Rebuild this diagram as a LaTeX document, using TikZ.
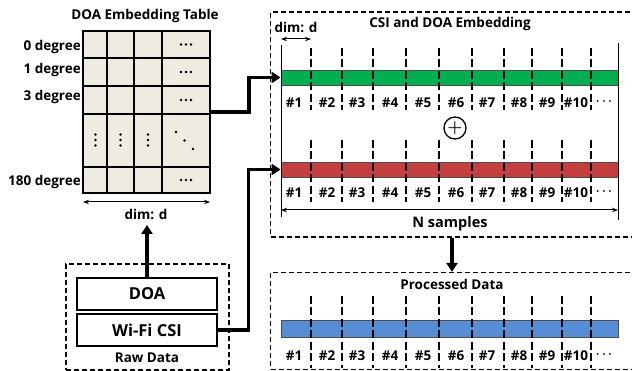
\documentclass[tikz,border=0pt]{standalone}
\usepackage{fontspec}
\setmainfont{Open Sans}
\usepackage{tikz}
\usetikzlibrary{arrows.meta}
\usetikzlibrary{positioning}
\definecolor{tablefill}{RGB}{238,236,225}
\definecolor{embgreen}{RGB}{0,176,80}
\definecolor{embred}{RGB}{196,64,62}
\definecolor{procblue}{RGB}{85,142,213}
\tikzset{
every node/.style={font=\bfseries\fontsize{13.5}{15}\selectfont, inner sep=0pt},
tbl/.style={rectangle, draw, fill=tablefill, line width=1.6pt, minimum width=127pt, minimum height=162pt},
grid/.style={line width=1.6pt},
dashbox/.style={rectangle, draw, line width=1.2pt, dash pattern=on 5pt off 3pt},
inbox/.style={rectangle, draw, line width=1.4pt, minimum width=140pt, minimum height=32pt, font=\bfseries\fontsize{16.5}{18}\selectfont},
bar/.style={rectangle, draw=black!70, line width=0.8pt, minimum width=337pt},
sep/.style={line width=2.2pt, dash pattern=on 8pt off 3.5pt},
conn/.style={line width=3.5pt, -{Triangle[length=9pt, width=11pt]}},
dimline/.style={line width=1pt, {Stealth[length=6pt]}-{Stealth[length=6pt]}},
more/.style={font=\boldmath\fontsize{12}{14}\selectfont}
}

\begin{document}
\begin{tikzpicture}[x=1pt,y=-1pt]
\clip (0,0) rectangle (632,371);

% embedding table
\node (ttitle) at (145,16) {DOA Embedding Table};
\node[tbl] (table) at (146.5,112) {};
\foreach \x in {107,134,162}
  \draw[grid] (\x,0 |- table.north) -- (\x,0 |- table.south);
\foreach \y in {58,86,114,167}
  \draw[grid] (table.west |- 0,\y) -- (table.east |- 0,\y);
\foreach \y/\d [count=\i] in {47/0,70/1,97/3,182/180}
  \node[anchor=east] (deg\i) at (81,\y) {\d{} degree};
\foreach \y in {44.5,72,100,180}
  \foreach \x in {181,186,191}
    \fill (\x,\y) circle (1.3pt);
\foreach \x in {95.5,120.5,148}
  \foreach \y in {134.5,140,145.5}
    \fill (\x,\y) circle (1.3pt);
\fill (176,132) circle (1.3pt) (184.5,140.5) circle (1.3pt) (193,149) circle (1.3pt);
\coordinate (dl) at (83,202);
\coordinate (dr) at (210,202);
\draw[dimline] (dl) -- (dr);
\node (tdim) at (146,214) {dim: d};

% raw data
\node[dashbox, minimum width=163pt, minimum height=106pt] (raw) at (147.5,317) {};
\node[inbox] (doa) at (147,294) {DOA};
\node[inbox] (csi) at (147,330) {Wi-Fi CSI};
\node (rlabel) at (147,358) {Raw Data};
\coordinate (tin) at (147,225);
\draw[conn] (doa.north) -- (tin);

% embeddings
\node[dashbox, minimum width=363pt, minimum height=225pt] (emb) at (452,124.5) {};
\node (etitle) at (450,24) {CSI and DOA Embedding};
\node[bar, fill=embgreen, minimum height=15pt] (green) at (449.5,77.5) {};
\node[bar, fill=embred, minimum height=15pt] (red) at (449.5,169.5) {};
\draw[line width=1pt] (281,45) -- (281,217);
\draw[line width=1pt] (618,43) -- (618,220);
\coordinate (el) at (281,39);
\coordinate (er) at (311,39);
\draw[dimline] (el) -- (er);
\node (edim) at (296,27) {dim: d};
\node[circle, draw, line width=1.3pt, minimum size=22pt, font=\boldmath\fontsize{17}{17}\selectfont] (plus) at (455,128) {$+$};
\coordinate (nl) at (281,210);
\coordinate (nr) at (618,210);
\draw[dimline] (nl) -- (nr);
\node[font=\bfseries\fontsize{14.5}{16}\selectfont] (nlabel) at (450,224) {N samples};

\draw[conn] (table.east) -- ++(38,0) |- (green.west);
\draw[conn] (csi.east) -- ++(31,0) |- (red.west);

% processed data
\node[dashbox, minimum width=363pt, minimum height=97pt] (proc) at (452,321) {};
\node (ptitle) at (452,284) {Processed Data};
\node[bar, fill=procblue, minimum height=17pt] (blue) at (449.5,328.5) {};
\draw[conn] (emb.south) -- (proc.north);

% sample separators and indices
\foreach \x in {311,342,373,406,439,472,504,532,562,591} {
  \draw[sep] (\x,48) -- (\x,110);
  \draw[sep] (\x,140) -- (\x,202);
  \draw[sep] (\x,296) -- (\x,368);
}
\foreach \x [count=\i] in {294,327,357,390,423,456,487,519,547,576} {
  \node (u\i) at (\x,103) {\#\i};
  \node (l\i) at (\x,193) {\#\i};
  \node (p\i) at (\x,356) {\#\i};
}
\node[more] (ue) at (604,102) {$\cdots$};
\node[more] (le) at (604,192) {$\cdots$};
\node[more] (pe) at (604,355) {$\cdots$};

\end{tikzpicture}
\end{document}
